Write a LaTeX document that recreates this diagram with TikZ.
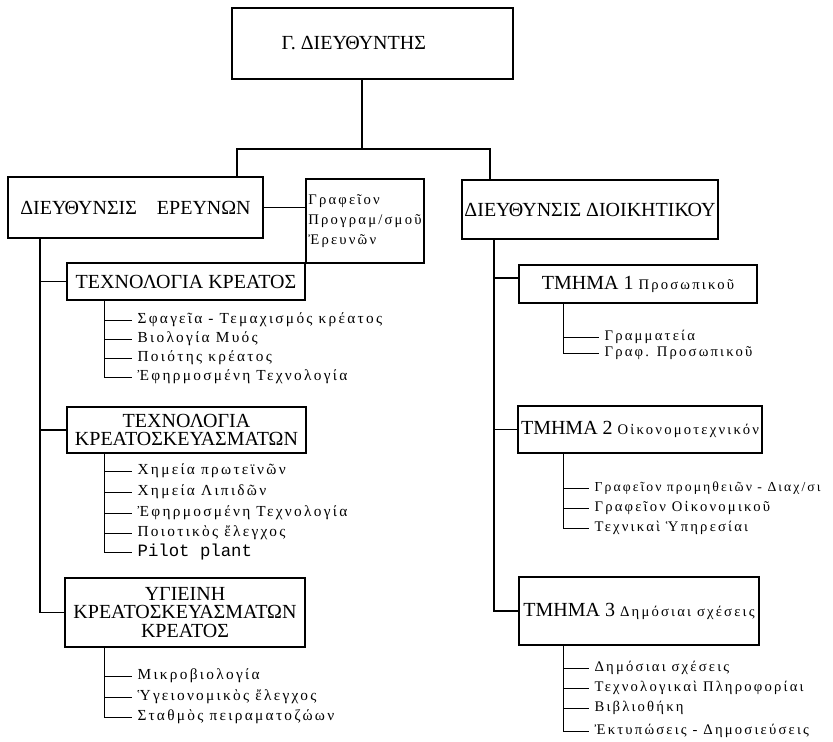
\documentclass[tikz,border=0pt]{standalone}
\usepackage{fontspec}
\setmainfont{Liberation Serif}
\setmonofont{Liberation Mono}
\newfontfamily\typefam[LetterSpace=15]{Liberation Serif}
\newcommand{\lowtype}{\typefam\fontsize{11}{15}\selectfont}

\begin{document}
\begin{tikzpicture}[x=0.75pt,y=-0.75pt,
    box/.style={draw,line width=1.3pt,inner sep=2pt,align=center,font=\fontsize{15}{14}\selectfont},
    item/.style={anchor=west,inner xsep=4pt,inner ysep=1pt,font=\lowtype},
    leftitem/.style={item,font=\typefam\fontsize{11.5}{15}\selectfont},
    link/.style={line width=1.3pt},
    twig/.style={line width=0.6pt}]
    \useasboundingbox (0,0) rectangle (833,742);
    % top of the tree
    \node[box,minimum width=210.75pt,minimum height=53.25pt] (gd) at (372.5,43.5) {\hspace*{-28pt}Γ. ΔΙΕΥΘΥΝΤΗΣ};
    \node[box,minimum width=191.25pt,minimum height=45.75pt] (dirE) at (135.5,207.5) {ΔΙΕΥΘΥΝΣΙΣ\quad ΕΡΕΥΝΩΝ};
    \node[box,font=\lowtype,align=left,minimum width=79.5pt,minimum height=63pt] (graf) at (365,221) {Γραφεῖον\\Προγραμ/σμοῦ\\Ἐρευνῶν};
    \node[box,minimum width=190.5pt,minimum height=44.25pt] (dirD) at (590,209.5) {ΔΙΕΥΘΥΝΣΙΣ ΔΙΟΙΚΗΤΙΚΟΥ};
    \coordinate (fork) at (362,149);
    \draw[link] (gd.south -| fork) -- (fork);
    \draw[link] (dirE.north -| 237,0) |- (fork) -| (dirD.north -| 490,0);
    \draw[link] (dirE.east) -- (dirE.east -| graf.west);
    % research side
    \node[box,minimum width=178.5pt,minimum height=27.75pt] (tk) at (186,281.5) {ΤΕΧΝΟΛΟΓΙΑ ΚΡΕΑΤΟΣ};
    \node[box,minimum width=179.25pt,minimum height=34.5pt] (tks) at (186.5,430) {ΤΕΧΝΟΛΟΓΙΑ\\ΚΡΕΑΤΟΣΚΕΥΑΣΜΑΤΩΝ};
    \node[box,minimum width=180pt,minimum height=51.75pt] (yk) at (185,612.5) {ΥΓΙΕΙΝΗ\\ΚΡΕΑΤΟΣΚΕΥΑΣΜΑΤΩΝ\\ΚΡΕΑΤΟΣ};
    \coordinate (spE) at (40,0);
    \draw[link] (dirE.south -| spE) |- (yk.west);
    \draw[link] (tk.west -| spE) -- (tk.west);
    \draw[link] (tks.west -| spE) -- (tks.west);
    \node[leftitem] (i11) at (132,320) {Σφαγεῖα - Τεμαχισμός κρέατος};
    \node[leftitem] (i12) at (132,339) {Βιολογία Μυός};
    \node[leftitem] (i13) at (132,358) {Ποιότης κρέατος};
    \node[leftitem] (i14) at (132,377) {Ἐφηρμοσμένη Τεχνολογία};
    \node[leftitem] (i21) at (132,471) {Χημεία πρωτεϊνῶν};
    \node[leftitem] (i22) at (132,492) {Χημεία Λιπιδῶν};
    \node[leftitem] (i23) at (132,513) {Ἐφηρμοσμένη Τεχνολογία};
    \node[leftitem] (i24) at (132,533) {Ποιοτικὸς ἔλεγχος};
    \node[item,font=\ttfamily\fontsize{13}{15}\selectfont] (i25) at (132,552) {Pilot plant};
    \node[leftitem] (i31) at (132,676) {Μικροβιολογία};
    \node[leftitem] (i32) at (132,697) {Ὑγειονομικὸς ἔλεγχος};
    \node[leftitem] (i33) at (132,717) {Σταθμὸς πειραματοζώων};
    \coordinate (stE) at (104,0);
    \draw[twig] (tk.south -| stE) |- (i14.west) (i11.west -| stE) -- (i11.west)
        (i12.west -| stE) -- (i12.west) (i13.west -| stE) -- (i13.west);
    \draw[twig] (tks.south -| stE) |- (i25.west) (i21.west -| stE) -- (i21.west)
        (i22.west -| stE) -- (i22.west) (i23.west -| stE) -- (i23.west) (i24.west -| stE) -- (i24.west);
    \draw[twig] (yk.south -| stE) |- (i33.west) (i31.west -| stE) -- (i31.west)
        (i32.west -| stE) -- (i32.west);
    % administration side
    \node[box,minimum width=178.5pt,minimum height=28.5pt] (t1) at (638,284) {ΤΜΗΜΑ 1 {\lowtype Προσωπικοῦ}};
    \node[box,minimum width=181.5pt,minimum height=35.25pt] (t2) at (640,429.5) {ΤΜΗΜΑ 2 {\lowtype Οἰκονομοτεχνικόν}};
    \node[box,minimum width=180pt,minimum height=51pt] (t3) at (639,611) {ΤΜΗΜΑ 3 {\lowtype Δημόσιαι σχέσεις}};
    \coordinate (spD) at (494,0);
    \coordinate (t1in) at ([yshift=4.5pt]t1.west);
    \draw[link] (dirD.south -| spD) |- (t3.west);
    \draw[link] (t1in -| spD) -- (t1in);
    \draw[link] (t2.west -| spD) -- (t2.west);
    \node[item] (j11) at (599,337) {Γραμματεία};
    \node[item] (j12) at (599,353) {Γραφ. Προσωπικοῦ};
    \node[item,font=\typefam\fontsize{10.3}{15}\selectfont] (j21) at (589,488) {Γραφεῖον προμηθειῶν - Διαχ/σι};
    \node[item] (j22) at (589,508) {Γραφεῖον Οἰκονομικοῦ};
    \node[item] (j23) at (589,528) {Τεχνικαὶ Ὑπηρεσίαι};
    \node[item] (j31) at (589,668) {Δημόσιαι σχέσεις};
    \node[item] (j32) at (589,688) {Τεχνολογικαὶ Πληροφορίαι};
    \node[item] (j33) at (589,708) {Βιβλιοθήκη};
    \node[item] (j34) at (589,731) {Ἐκτυπώσεις - Δημοσιεύσεις};
    \coordinate (stD) at (563,0);
    \draw[twig] (t1.south -| stD) |- (j12.west) (j11.west -| stD) -- (j11.west);
    \draw[twig] (t2.south -| stD) |- (j23.west) (j21.west -| stD) -- (j21.west)
        (j22.west -| stD) -- (j22.west);
    \draw[twig] (t3.south -| stD) |- (j34.west) (j31.west -| stD) -- (j31.west)
        (j32.west -| stD) -- (j32.west) (j33.west -| stD) -- (j33.west);
\end{tikzpicture}
\end{document}
